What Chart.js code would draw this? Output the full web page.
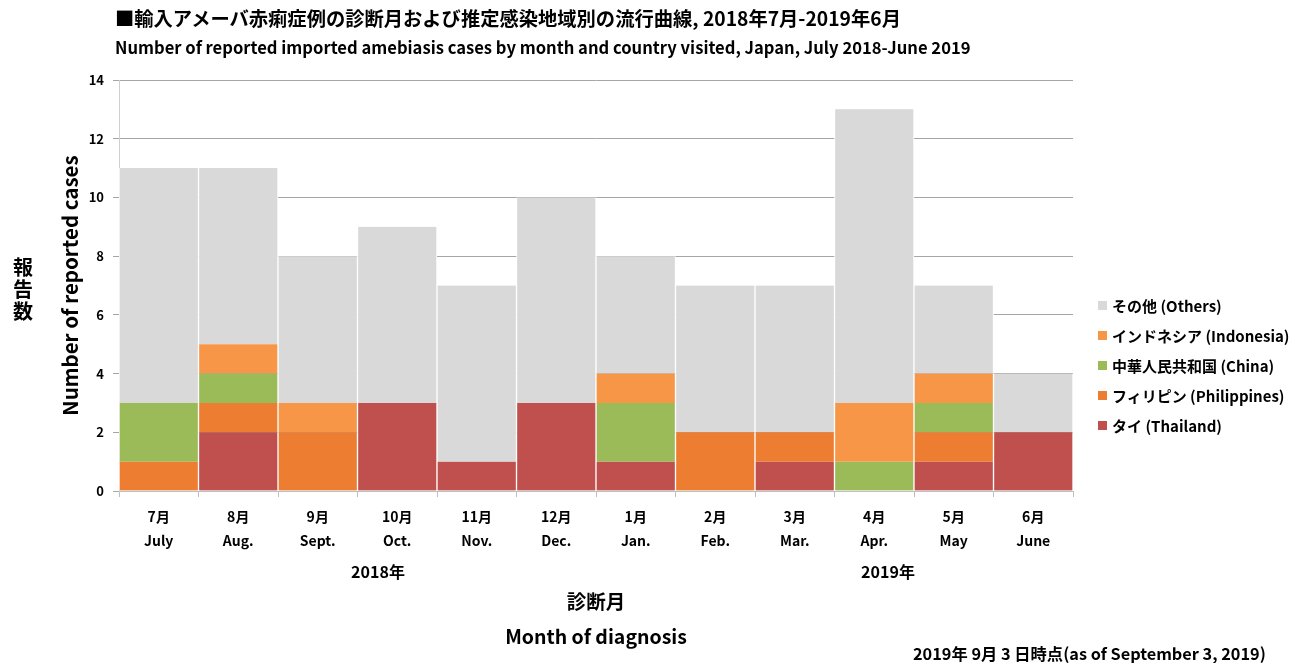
<!DOCTYPE html>
<html>
<head>
<meta charset="utf-8">
<script src="https://cdn.jsdelivr.net/npm/chart.js@4.4.1/dist/chart.umd.min.js"></script>
<style>
  body { margin:0; background:#fff; font-family:"Noto Sans CJK JP", sans-serif; font-weight:bold; color:#000; }
  #wrap { position:relative; width:1293px; height:663px; overflow:hidden; }
  #myChart { position:absolute; left:0; top:0; }
  .txt { position:absolute; white-space:nowrap; line-height:1; }
  #title { left:115px; top:9px; font-size:19.3px; }
  #subtitle { left:115px; top:39px; font-size:16.6px; }
  #yjp { left:12px; top:256px; font-size:20px; width:22px; line-height:22px; text-align:center; }
  .year { top:563px; font-size:16px; transform:translateX(-50%); }
  .xtitle { left:596px; font-size:19.5px; transform:translateX(-50%); }
  #footer { left:913px; top:645px; font-size:16.3px; }
  #legend { position:absolute; left:1098px; top:290px; font-size:15px; }
  #legend div { height:30px; display:flex; align-items:center; white-space:nowrap; }
  #legend span.box { display:inline-block; width:9px; height:9px; margin-right:5px; }
</style>
</head>
<body>
<div id="wrap">
  <canvas id="myChart" width="1293" height="663"></canvas>
  <div class="txt" id="title">■輸入アメーバ赤痢症例の診断月および推定感染地域別の流行曲線, 2018年7月-2019年6月</div>
  <div class="txt" id="subtitle">Number of reported imported amebiasis cases by month and country visited, Japan, July 2018-June 2019</div>
  <div class="txt" id="yjp">報<br>告<br>数</div>
  <div class="txt year" style="left:378px">2018年</div>
  <div class="txt year" style="left:888px">2019年</div>
  <div class="txt xtitle" style="top:591px">診断月</div>
  <div class="txt xtitle" style="top:626px">Month of diagnosis</div>
  <div class="txt" id="footer">2019年 9月 3 日時点(as of September 3, 2019)</div>
  <div id="legend"></div>
</div>
<script>
// months (jp / en)
const monthsJp = ["7月","8月","9月","10月","11月","12月","1月","2月","3月","4月","5月","6月"];
const monthsEn = ["July","Aug.","Sept.","Oct.","Nov.","Dec.","Jan.","Feb.","Mar.","Apr.","May","June"];

// cases per month, stacked bottom to top
const thailand    = [0,2,0,3,1,3,1,0,1,0,1,2];
const philippines = [1,1,2,0,0,0,0,2,1,0,1,0];
const china       = [2,1,0,0,0,0,2,0,0,1,1,0];
const indonesia   = [0,1,1,0,0,0,1,0,0,2,1,0];
const others      = [8,6,5,6,6,7,4,5,5,10,3,2];

const yTicks = [0,2,4,6,8,10,12,14];

const labels = monthsJp.map((m,i)=>[m, monthsEn[i]]);

const series = [
    {label:"タイ (Thailand)", data:thailand, color:"#c0504d"},
    {label:"フィリピン (Philippines)", data:philippines, color:"#ed7d31"},
    {label:"中華人民共和国 (China)", data:china, color:"#9bbb59"},
    {label:"インドネシア (Indonesia)", data:indonesia, color:"#f79646"},
    {label:"その他 (Others)", data:others, color:"#d9d9d9"}
];

const fontFam = '"Noto Sans CJK JP", sans-serif';

var ctx = document.getElementById('myChart');
const myChart = new Chart(ctx,{
    type:'bar',
    data:{
        labels:labels,
        datasets:series.map(s=>({
            label:s.label,
            data:s.data,
            backgroundColor:s.color,
            borderColor:"#ffffff",
            borderWidth:{left:1,right:1,top:0,bottom:0},
            borderSkipped:false,
            barPercentage:1,
            categoryPercentage:1
        }))
    },
    options:{
        responsive:false,
        animation:false,
        layout:{
            padding:{top:80, left:58, right:220, bottom:0}
        },
        plugins:{
            legend:{display:false},
            tooltip:{enabled:false}
        },
        scales:{
            x:{
                stacked:true,
                afterFit:(s)=>{ s.height = 172; },
                grid:{
                    drawOnChartArea:false,
                    color:"#bfbfbf",
                    tickLength:6
                },
                border:{color:"#bfbfbf"},
                ticks:{
                    color:"#000",
                    padding:8,
                    maxRotation:0,
                    font:{family:fontFam, size:14, weight:'bold', lineHeight:1.7}
                }
            },
            y:{
                stacked:true,
                min:0,
                max:14,
                afterFit:(s)=>{ s.width = 61; },
                afterBuildTicks:(s)=>{ s.ticks = yTicks.map(v=>({value:v})); },
                grid:{
                    color:"#a6a6a6",
                    tickLength:6
                },
                border:{color:"#d0d0d0"},
                ticks:{
                    color:"#000",
                    padding:9,
                    font:{family:fontFam, size:13, weight:'bold'}
                },
                title:{
                    display:true,
                    text:"Number of reported cases",
                    color:"#000",
                    padding:0,
                    font:{family:fontFam, size:20.5, weight:'bold'}
                }
            }
        }
    }
});

// legend, top item = top of the stack
const legend = document.getElementById('legend');
series.slice().reverse().forEach((s)=>{
    const row = document.createElement('div');
    row.innerHTML = '<span class="box" style="background:'+s.color+'"></span>'+s.label;
    legend.appendChild(row);
});
</script>
</body>
</html>
